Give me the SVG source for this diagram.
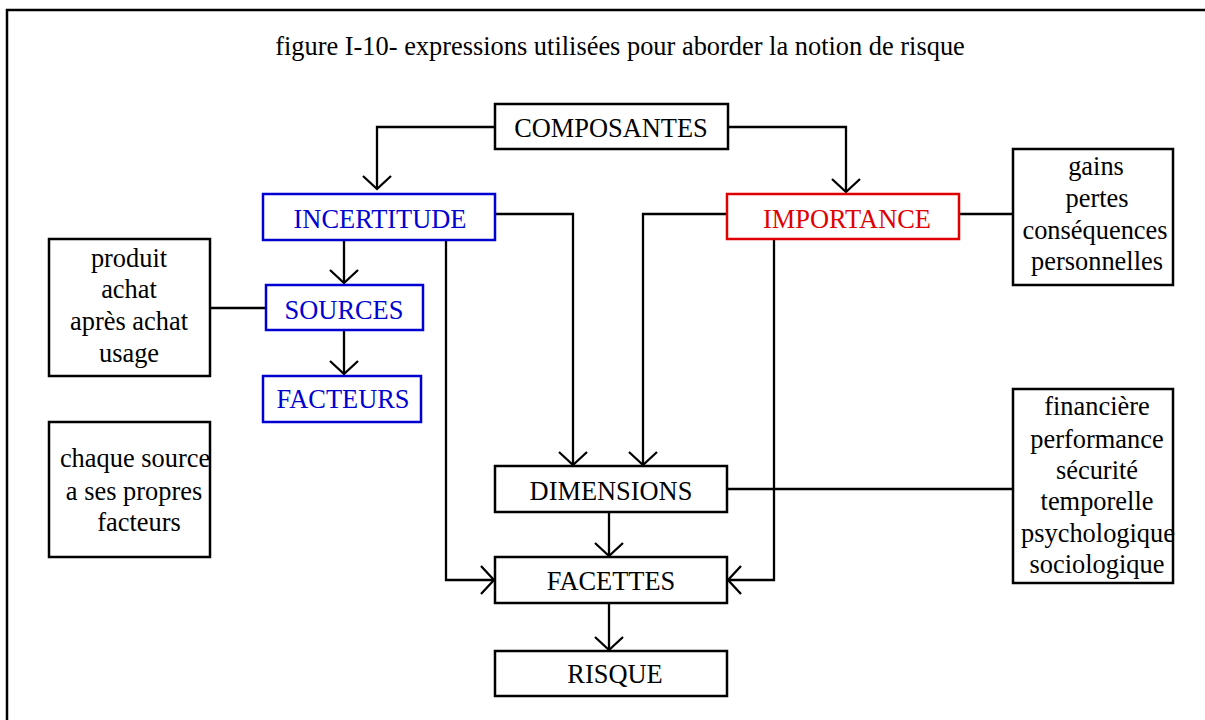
<svg xmlns="http://www.w3.org/2000/svg" width="1205" height="720" viewBox="0 0 1205 720">
  <style>
    text { font-family: "Liberation Serif", "Times New Roman", serif; font-size: 26.4px; text-anchor: middle; fill: #000; }
    .box { fill: #fff; stroke: #000; stroke-width: 2.5; }
    .blue rect { stroke: #0000d0; }
    .blue text { fill: #0000d0; }
    .red rect { stroke: #e00000; }
    .red text { fill: #e00000; }
    .wire { fill: none; stroke: #000; stroke-width: 2.3; }
    .arrow { marker-end: url(#chev); }
  </style>
  <defs>
    <marker id="chev" markerUnits="userSpaceOnUse" markerWidth="32" markerHeight="32" viewBox="-16 -16 32 32" refX="0" refY="0" orient="auto">
      <path d="M-13,-14 L0,0 L-13,14" fill="none" stroke="#000" stroke-width="2.3"/>
    </marker>
  </defs>

  <rect width="1205" height="720" fill="#fff"/>
  <!-- page frame -->
  <path d="M7,722 V10 H1207" fill="none" stroke="#000" stroke-width="2.5"/>

  <text x="620" y="55">figure I-10- expressions utilisées pour aborder la notion de risque</text>

  <g id="connectors">
    <path class="wire arrow" d="M495,127 H377 V189"/>
    <path class="wire arrow" d="M728,127 H846 V192"/>
    <path class="wire arrow" d="M495,214 H573 V465"/>
    <path class="wire arrow" d="M727,214 H643 V465"/>
    <path class="wire" d="M959,214 H1013"/>
    <path class="wire arrow" d="M344,240 V283"/>
    <path class="wire arrow" d="M344,330 V374"/>
    <path class="wire" d="M266,308 H210"/>
    <path class="wire arrow" d="M446,240 V580 H494"/>
    <path class="wire arrow" d="M774,239 V580 H728"/>
    <path class="wire" d="M727,489 H1013"/>
    <path class="wire arrow" d="M609,512 V556"/>
    <path class="wire arrow" d="M609,603 V650"/>
  </g>

  <g id="composantes">
    <rect class="box" x="495" y="104" width="233" height="45"/>
    <text x="611" y="137">COMPOSANTES</text>
  </g>

  <g id="incertitude" class="blue">
    <rect class="box" x="263" y="194" width="232" height="46"/>
    <text x="380" y="228">INCERTITUDE</text>
  </g>

  <g id="importance" class="red">
    <rect class="box" x="727" y="194" width="232" height="45"/>
    <text x="847" y="228">IMPORTANCE</text>
  </g>

  <g id="sources" class="blue">
    <rect class="box" x="266" y="285" width="157" height="45"/>
    <text x="344" y="319">SOURCES</text>
  </g>

  <g id="facteurs" class="blue">
    <rect class="box" x="263" y="376" width="158" height="46"/>
    <text x="343" y="408">FACTEURS</text>
  </g>

  <g id="sources-liste">
    <rect class="box" x="49" y="239" width="161" height="137"/>
    <text x="129" y="267">produit</text>
    <text x="129" y="298">achat</text>
    <text x="129" y="330">après achat</text>
    <text x="129" y="362">usage</text>
  </g>

  <g id="note-facteurs">
    <rect class="box" x="49" y="422" width="161" height="135"/>
    <text x="135" y="467">chaque source</text>
    <text x="134" y="500">a ses propres</text>
    <text x="139" y="531">facteurs</text>
  </g>

  <g id="importance-liste">
    <rect class="box" x="1013" y="149" width="160" height="136"/>
    <text x="1096" y="175">gains</text>
    <text x="1097" y="207">pertes</text>
    <text x="1095" y="239">conséquences</text>
    <text x="1097" y="270">personnelles</text>
  </g>

  <g id="dimensions-liste">
    <rect class="box" x="1013" y="389" width="160" height="194"/>
    <text x="1097" y="415">financière</text>
    <text x="1097" y="448">performance</text>
    <text x="1097" y="479">sécurité</text>
    <text x="1097" y="510">temporelle</text>
    <text x="1098" y="542">psychologique</text>
    <text x="1097" y="573">sociologique</text>
  </g>

  <g id="dimensions">
    <rect class="box" x="495" y="466" width="232" height="46"/>
    <text x="611" y="500">DIMENSIONS</text>
  </g>

  <g id="facettes">
    <rect class="box" x="495" y="557" width="232" height="46"/>
    <text x="611" y="590">FACETTES</text>
  </g>

  <g id="risque">
    <rect class="box" x="495" y="651" width="232" height="45"/>
    <text x="615" y="683">RISQUE</text>
  </g>
</svg>
